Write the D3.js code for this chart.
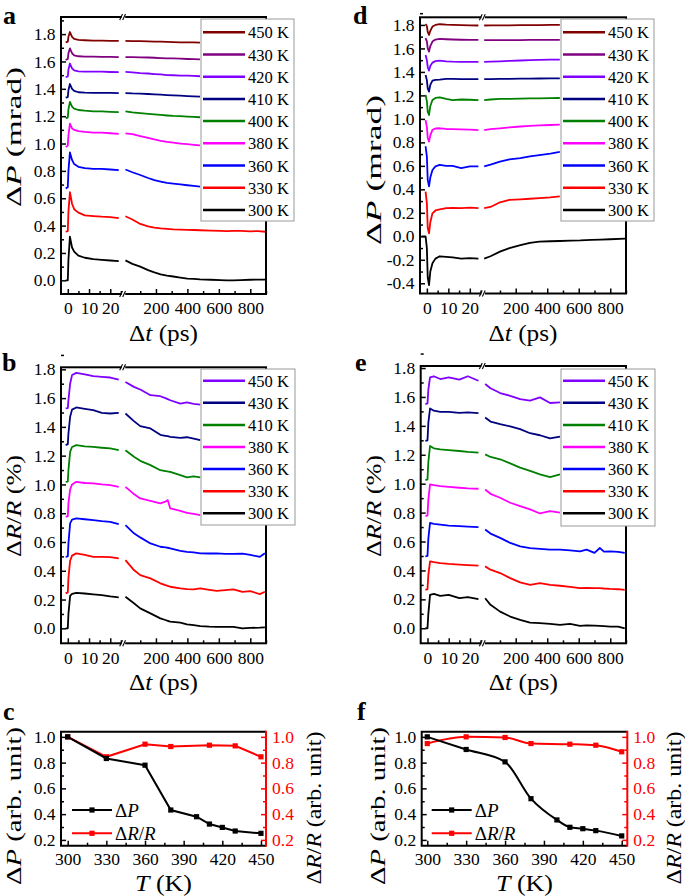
<!DOCTYPE html>
<html><head><meta charset="utf-8">
<script src="https://cdn.jsdelivr.net/npm/d3@7"></script>
<style>
body{margin:0;background:#fff}
</style>
</head><body><svg id="c" width="685" height="896"></svg>
<script>
// ---------------- DATA ----------------
const labelsA = ["450 K","430 K","420 K","410 K","400 K","380 K","360 K","330 K","300 K"];
const colorsA = ["#800000","#800080","#8000ff","#000080","#008000","#ff00ff","#0000ff","#ff0000","#000000"];
const labelsB = ["450 K","430 K","410 K","380 K","360 K","330 K","300 K"];
const colorsB = ["#8000ff","#000080","#008000","#ff00ff","#0000ff","#ff0000","#000000"];

// Panel a (ΔP, mrad)
const tS_A = [-1, 0, 0.3, 1, 2, 3, 5, 8, 12, 16, 20, 24];
const tL_A = [6, 50, 100, 150, 190, 230, 270, 310, 355, 400, 440, 480, 550, 610, 650, 690, 740, 800, 850, 895];
const a450S = [1.74, 1.745, 1.78, 1.815, 1.78, 1.765, 1.758, 1.755, 1.752, 1.752, 1.75, 1.75];
const a450L = [1.75, 1.749, 1.748, 1.747, 1.745, 1.745, 1.743, 1.742, 1.74, 1.74, 1.74, 1.738];
const a430S = [1.612, 1.618, 1.66, 1.695, 1.66, 1.645, 1.638, 1.635, 1.635, 1.633, 1.633, 1.632];
const a430L = [1.632, 1.631, 1.63, 1.629, 1.627, 1.625, 1.623, 1.622, 1.62, 1.618, 1.617, 1.615];
const a420S = [1.485, 1.49, 1.54, 1.585, 1.55, 1.535, 1.528, 1.525, 1.525, 1.525, 1.523, 1.522];
const a420L = [1.524, 1.52, 1.515, 1.512, 1.508, 1.505, 1.5, 1.499, 1.497, 1.496, 1.495, 1.492];
const a410S = [1.335, 1.34, 1.39, 1.435, 1.4, 1.385, 1.375, 1.372, 1.37, 1.37, 1.37, 1.368];
const a410L = [1.368, 1.366, 1.365, 1.362, 1.36, 1.357, 1.354, 1.352, 1.35, 1.347, 1.345, 1.343];
const a400S = [1.185, 1.19, 1.25, 1.305, 1.27, 1.255, 1.245, 1.24, 1.235, 1.235, 1.232, 1.23];
const a400L = [1.235, 1.228, 1.222, 1.217, 1.213, 1.209, 1.205, 1.202, 1.2, 1.197, 1.195, 1.192];
const a380S = [0.975, 0.985, 1.06, 1.145, 1.11, 1.1, 1.09, 1.085, 1.08, 1.08, 1.075, 1.07];
const a380L = [1.075, 1.068, 1.055, 1.042, 1.03, 1.02, 1.012, 1.006, 1.0, 0.995, 0.99, 0.986];
const a360S = [0.672, 0.68, 0.8, 0.935, 0.88, 0.85, 0.83, 0.82, 0.815, 0.815, 0.81, 0.805];
const a360L = [0.81, 0.79, 0.77, 0.748, 0.732, 0.722, 0.713, 0.707, 0.701, 0.695, 0.69, 0.685];
const a330S = [0.355, 0.36, 0.5, 0.645, 0.56, 0.52, 0.495, 0.475, 0.47, 0.465, 0.462, 0.455];
const a330L = [0.468, 0.445, 0.412, 0.395, 0.386, 0.38, 0.376, 0.372, 0.371, 0.369, 0.368, 0.366, 0.364, 0.362, 0.36, 0.361, 0.362, 0.358, 0.36, 0.355];
const a300S = [0.0, 0.0, 0.15, 0.32, 0.24, 0.21, 0.18, 0.165, 0.155, 0.15, 0.145, 0.14];
const a300L = [0.146, 0.12, 0.1, 0.075, 0.058, 0.044, 0.035, 0.028, 0.02, 0.013, 0.01, 0.007, 0.004, 0.002, 0.0, 0.0, 0.002, 0.004, 0.005, 0.005];

// Panel d (ΔP, mrad)
const tS_D = [-2.5, -0.6, 0, 0.4, 1, 1.6, 2.6, 4, 6, 9, 12, 16, 20, 24];
const tL_D = [0, 40, 100, 160, 230, 290, 350, 420, 480, 550, 610, 680, 740, 800, 895];
const d450S = [null, 1.808, 1.79, 1.74, 1.715, 1.75, 1.786, 1.8, 1.806, 1.802, 1.8, 1.798, 1.797, 1.795];
const d450L = [1.795, 1.796, 1.797, 1.797, 1.798, 1.798, 1.799, 1.8, 1.8];
const d430S = [null, 1.687, 1.66, 1.6, 1.573, 1.62, 1.658, 1.675, 1.681, 1.678, 1.676, 1.674, 1.673, 1.672];
const d430L = [1.67, 1.67, 1.671, 1.671, 1.671, 1.672, 1.672, 1.672, 1.672];
const d420S = [null, 1.544, 1.5, 1.44, 1.411, 1.45, 1.479, 1.492, 1.496, 1.49, 1.487, 1.486, 1.486, 1.485];
const d420L = [1.485, 1.487, 1.49, 1.494, 1.497, 1.5, 1.502, 1.504, 1.505];
const d410S = [null, 1.374, 1.33, 1.26, 1.232, 1.29, 1.326, 1.333, 1.335, 1.34, 1.34, 1.339, 1.338, 1.338];
const d410L = [1.338, 1.339, 1.34, 1.341, 1.342, 1.343, 1.344, 1.345, 1.345];
const d400S = [null, 1.204, 1.15, 1.06, 1.033, 1.11, 1.161, 1.178, 1.184, 1.17, 1.16, 1.165, 1.163, 1.16];
const d400L = [1.16, 1.165, 1.17, 1.171, 1.173, 1.174, 1.175, 1.177, 1.178];
const d380S = [null, 0.99, 0.93, 0.84, 0.806, 0.86, 0.906, 0.918, 0.92, 0.914, 0.912, 0.91, 0.908, 0.905];
const d380L = [0.905, 0.912, 0.92, 0.928, 0.935, 0.94, 0.945, 0.948, 0.951];
const d360S = [null, 0.767, 0.68, 0.48, 0.425, 0.5, 0.565, 0.595, 0.608, 0.6, 0.6, 0.58, 0.595, 0.595];
const d360L = [0.595, 0.61, 0.636, 0.655, 0.665, 0.68, 0.692, 0.705, 0.72];
const d330S = [null, 0.38, 0.28, 0.07, 0.025, 0.12, 0.196, 0.22, 0.23, 0.24, 0.243, 0.24, 0.245, 0.24];
const d330L = [0.24, 0.25, 0.29, 0.31, 0.315, 0.32, 0.325, 0.332, 0.34];
const d300S = [0.0, 0.0, -0.1, -0.35, -0.415, -0.3, -0.23, -0.19, -0.17, -0.175, -0.18, -0.19, -0.185, -0.19];
const d300L = [-0.19, -0.17, -0.13, -0.1, -0.075, -0.055, -0.045, -0.042, -0.04, -0.037, -0.035, -0.03, -0.028, -0.025, -0.02];

// Panel b (ΔR/R, %)
const tS_B = [-1, 0, 0.3, 1.1, 2, 4, 8, 12, 16, 20, 24];
const tL_B = [6, 60, 100, 165, 228, 260, 275, 291, 355, 397, 440, 482, 540, 587, 640, 693, 750, 800, 861, 893];
const b450S = [1.528, 1.53, 1.585, 1.7, 1.76, 1.775, 1.765, 1.752, 1.748, 1.743, 1.729];
const b450L = [1.712, 1.678, 1.66, 1.62, 1.613, 1.6, 1.593, 1.585, 1.562, 1.57, 1.56, 1.555];
const b430S = [1.273, 1.28, 1.354, 1.47, 1.52, 1.535, 1.525, 1.516, 1.497, 1.493, 1.497];
const b430L = [1.493, 1.44, 1.405, 1.389, 1.345, 1.338, 1.335, 1.331, 1.324, 1.328, 1.318, 1.308];
const b410S = [1.018, 1.02, 1.099, 1.226, 1.26, 1.273, 1.265, 1.261, 1.255, 1.25, 1.238];
const b410L = [1.238, 1.192, 1.164, 1.134, 1.099, 1.093, 1.09, 1.088, 1.065, 1.049, 1.056, 1.049];
const b380S = [0.775, 0.78, 0.868, 0.965, 1.0, 1.018, 1.01, 1.007, 1.0, 0.995, 0.983];
const b380L = [0.983, 0.933, 0.903, 0.886, 0.868, 0.88, 0.891, 0.833, 0.817, 0.803, 0.795, 0.787];
const b360S = [0.497, 0.5, 0.59, 0.729, 0.755, 0.764, 0.758, 0.752, 0.745, 0.74, 0.724];
const b360L = [0.717, 0.66, 0.632, 0.59, 0.567, 0.562, 0.56, 0.556, 0.539, 0.532, 0.528, 0.521, 0.52, 0.521, 0.518, 0.517, 0.519, 0.51, 0.497, 0.521];
const b330S = [0.243, 0.25, 0.35, 0.47, 0.505, 0.521, 0.51, 0.497, 0.497, 0.495, 0.486];
const b330L = [0.474, 0.405, 0.37, 0.347, 0.313, 0.3, 0.295, 0.289, 0.278, 0.272, 0.271, 0.278, 0.268, 0.261, 0.266, 0.271, 0.254, 0.258, 0.238, 0.254];
const b300S = [0.0, 0.0, 0.1, 0.225, 0.24, 0.247, 0.242, 0.236, 0.231, 0.222, 0.215];
const b300L = [0.22, 0.174, 0.139, 0.104, 0.069, 0.058, 0.052, 0.046, 0.04, 0.028, 0.022, 0.016, 0.012, 0.01, 0.01, 0.01, 0.0, 0.003, 0.005, 0.007];

// Panel e (ΔR/R, %)
const tS_E = [-1, 0, 0.4, 1.2, 3, 6, 10, 15, 19, 24];
const tL_E = [6, 40, 101, 165, 228, 291, 354, 418, 481, 545, 608, 650, 700, 734, 760, 800, 850, 892];
const e450S = [1.551, 1.555, 1.65, 1.736, 1.743, 1.724, 1.736, 1.72, 1.743, 1.712];
const e450L = [1.69, 1.66, 1.627, 1.608, 1.585, 1.574, 1.597, 1.558, 1.562];
const e430S = [1.296, 1.3, 1.42, 1.52, 1.505, 1.497, 1.497, 1.49, 1.493, 1.488];
const e430L = [1.458, 1.43, 1.412, 1.396, 1.377, 1.349, 1.335, 1.313, 1.326];
const e410S = [1.025, 1.03, 1.15, 1.261, 1.245, 1.238, 1.232, 1.226, 1.22, 1.215];
const e410L = [1.203, 1.185, 1.169, 1.141, 1.111, 1.088, 1.065, 1.045, 1.065];
const e380S = [0.775, 0.78, 0.89, 0.995, 0.99, 0.983, 0.978, 0.972, 0.968, 0.965];
const e380L = [0.96, 0.93, 0.903, 0.868, 0.845, 0.822, 0.794, 0.81, 0.8];
const e360S = [0.497, 0.5, 0.62, 0.729, 0.722, 0.717, 0.71, 0.706, 0.703, 0.7];
const e360L = [0.683, 0.655, 0.625, 0.59, 0.567, 0.555, 0.549, 0.544, 0.544, 0.539, 0.532, 0.544, 0.521, 0.555, 0.53, 0.532, 0.528, 0.521];
const e330S = [0.266, 0.27, 0.37, 0.463, 0.458, 0.451, 0.445, 0.44, 0.437, 0.433];
const e330L = [0.428, 0.405, 0.382, 0.347, 0.317, 0.3, 0.313, 0.3, 0.294, 0.286, 0.278, 0.28, 0.278, 0.278, 0.275, 0.272, 0.27, 0.266];
const e300S = [0.0, 0.0, 0.1, 0.231, 0.238, 0.224, 0.231, 0.208, 0.215, 0.201];
const e300L = [0.208, 0.162, 0.115, 0.081, 0.058, 0.039, 0.035, 0.03, 0.023, 0.03, 0.016, 0.02, 0.018, 0.016, 0.015, 0.012, 0.012, 0.0];

// Panels c, f (normalized amplitudes vs T)
const tempP = [300, 330, 360, 380, 400, 410, 420, 430, 450];
const tempR = [300, 330, 360, 380, 410, 430, 450];
const cP = [1.0, 0.832, 0.78, 0.432, 0.38, 0.323, 0.297, 0.269, 0.251];
const cR = [1.0, 0.845, 0.943, 0.925, 0.935, 0.93, 0.845];
const fP = [1.0, 0.902, 0.806, 0.52, 0.355, 0.298, 0.287, 0.272, 0.231];
const fR = [0.948, 1.0, 0.995, 0.948, 0.943, 0.935, 0.884];

// Tick labels
const ticksPA = [0.0, 0.2, 0.4, 0.6, 0.8, 1.0, 1.2, 1.4, 1.6, 1.8];
const ticksPD = [-0.4, -0.2, 0.0, 0.2, 0.4, 0.6, 0.8, 1.0, 1.2, 1.4, 1.6, 1.8];
const ticksR = [0.0, 0.2, 0.4, 0.6, 0.8, 1.0, 1.2, 1.4, 1.6, 1.8];
const ticksTshort = [0, 10, 20];
const ticksTlong = [200, 400, 600, 800];
const ticksTemp = [300, 330, 360, 390, 420, 450];
const ticksNorm = [0.2, 0.4, 0.6, 0.8, 1.0];

// ---------------- FONT PICK ----------------
function pickFont(list) {
  const cv = document.createElement("canvas").getContext("2d");
  const s = "abcdefghijklmnopqrstuvwxyzABCDEFGHIJ0123456789()";
  for (const f of list) {
    let differs = false;
    for (const base of ["monospace", "sans-serif"]) {
      cv.font = `40px ${base}`; const w0 = cv.measureText(s).width;
      cv.font = `40px "${f}", ${base}`; const w1 = cv.measureText(s).width;
      if (Math.abs(w0 - w1) > 0.5) differs = true; else { differs = false; break; }
    }
    if (differs) return `"${f}"`;
  }
  return "serif";
}
const FONT = pickFont(["Liberation Serif", "Times New Roman", "Tinos", "DejaVu Serif", "Noto Serif", "FreeSerif", "Nimbus Roman", "Nimbus Roman No9 L", "Liberation Sans"]);
d3.select("head").append("style").text(`svg text{font-family:${FONT}, serif;}`);

// ---------------- DRAWING ----------------
const svg = d3.select("#c");
const fmt = v => (Math.round(v * 10) / 10 + 0).toFixed(1);
const mids = arr => d3.pairs(arr).map(([a, b]) => (a + b) / 2);
const TICKF = 17.5;

function addText(g, x, y, parts, o = {}) {
  const t = g.append("text").attr("x", x).attr("y", y)
    .attr("font-size", o.size || 20).attr("text-anchor", o.anchor || "start")
    .attr("fill", o.fill || "#000");
  if (o.rotate) t.attr("transform", `rotate(-90,${x},${y})`);
  if (o.len) t.attr("textLength", o.len).attr("lengthAdjust", "spacingAndGlyphs");
  if (o.bold) t.attr("font-weight", "bold");
  parts.forEach(p => {
    const s = t.append("tspan").text(Array.isArray(p) ? p[0] : p);
    if (Array.isArray(p) && p[1]) s.attr("font-style", "italic");
  });
  return t;
}

function styleAxis(sel, color, size) {
  sel.select(".domain").remove();
  sel.attr("font-family", null).attr("font-size", size || TICKF);
  sel.selectAll("line").attr("stroke", color || "#000").attr("stroke-width", 1.5);
  sel.selectAll("text").attr("fill", color || "#000");
}

function breakMark(g, x, y) {
  g.append("rect").attr("x", x - 2).attr("y", y - 1.6).attr("width", 3.5).attr("height", 3.2).attr("fill", "#fff");
  [-2.8, 0.2].forEach(dx => {
    g.append("line").attr("x1", x + dx - 1.2).attr("y1", y + 3).attr("x2", x + dx + 1.6).attr("y2", y - 3)
      .attr("stroke", "#000").attr("stroke-width", 1.1);
  });
}

function timePanel(c) {
  const g = svg.append("g");
  const xL = d3.scaleLinear().domain([-3.2, 26]).range([c.L, c.brk]);
  const xR = d3.scaleLinear().domain([0, 900]).range([c.brk + 1.5, c.R]);
  const y = d3.scaleLinear().domain(c.yDom).range([c.B, c.T]);
  c.series.forEach(s => {
    [[xL, c.tS, s.vS], [xR, c.tL, s.vL]].forEach(([xs, ts, vs]) => {
      const line = d3.line().defined(d => d[1] != null).x(d => xs(d[0])).y(d => y(d[1]));
      g.append("path").datum(d3.zip(ts, vs)).attr("d", line)
        .attr("fill", "none").attr("stroke", s.color).attr("stroke-width", 1.8)
        .attr("stroke-linejoin", "round");
    });
  });
  const ya = g.append("g").attr("transform", `translate(${c.L},0)`)
    .call(d3.axisLeft(y).tickValues(c.yTicks).tickFormat(fmt).tickSize(-5).tickPadding(5.5));
  styleAxis(ya);
  const ym = g.append("g").attr("transform", `translate(${c.L},0)`)
    .call(d3.axisLeft(y).tickValues(mids(c.yTicks).concat([c.yTicks[c.yTicks.length - 1] + 0.1])).tickFormat("").tickSize(-3));
  styleAxis(ym);
  const xa1 = g.append("g").attr("transform", `translate(0,${c.B})`)
    .call(d3.axisBottom(xL).tickValues(ticksTshort).tickSize(-5).tickPadding(8));
  styleAxis(xa1);
  const xm1 = g.append("g").attr("transform", `translate(0,${c.B})`)
    .call(d3.axisBottom(xL).tickValues(mids(ticksTshort).concat([25])).tickFormat("").tickSize(-3));
  styleAxis(xm1);
  const xa2 = g.append("g").attr("transform", `translate(0,${c.B})`)
    .call(d3.axisBottom(xR).tickValues(ticksTlong).tickSize(-5).tickPadding(8));
  styleAxis(xa2);
  const xm2 = g.append("g").attr("transform", `translate(0,${c.B})`)
    .call(d3.axisBottom(xR).tickValues([100].concat(mids(ticksTlong), [900])).tickFormat("").tickSize(-3));
  styleAxis(xm2);
  g.append("rect").attr("x", c.L).attr("y", c.T).attr("width", c.R - c.L).attr("height", c.B - c.T)
    .attr("fill", "none").attr("stroke", "#000").attr("stroke-width", 2);
  breakMark(g, c.brk + 0.7, c.T);
  breakMark(g, c.brk + 0.7, c.B);
  const lg = c.legend;
  g.append("rect").attr("x", lg.x).attr("y", lg.y).attr("width", lg.w).attr("height", lg.h)
    .attr("fill", "#fff").attr("stroke", "#999").attr("stroke-width", 1);
  c.series.forEach((s, i) => {
    const yy = lg.row0 + i * lg.step;
    g.append("line").attr("x1", lg.x + 2).attr("x2", lg.x + 44).attr("y1", yy).attr("y2", yy)
      .attr("stroke", s.color).attr("stroke-width", 2.5);
    addText(g, lg.x + 47, yy + 6, [s.label], { size: 16.5 });
  });
  addText(g, (c.L + c.R) / 2, c.xTitleY, ["Δ", ["t", true], " (ps)"], { size: 24, anchor: "middle", len: 69 });
  addText(g, c.yTitleX, c.yTitleC, c.yTitle, { size: 21, anchor: "middle", rotate: true, len: c.yTitleLen });
  addText(g, c.letterX, c.letterY, [c.letter], { size: 26, bold: true });
}

function mk(labels, colors, arrs) {
  return labels.map((l, i) => ({ label: l, color: colors[i], vS: arrs[i][0], vL: arrs[i][1] }));
}

timePanel({
  L: 61, R: 266, T: 17, B: 294, brk: 123, yDom: [-0.1, 1.925], yTicks: ticksPA,
  tS: tS_A, tL: tL_A,
  series: mk(labelsA, colorsA, [[a450S, a450L], [a430S, a430L], [a420S, a420L], [a410S, a410L], [a400S, a400L], [a380S, a380L], [a360S, a360L], [a330S, a330L], [a300S, a300L]]),
  legend: { x: 201, y: 19, w: 93, h: 202, row0: 32.3, step: 22.2 },
  xTitleY: 341, yTitleX: 21, yTitleC: 137, yTitleLen: 140, yTitle: ["Δ", ["P", true], " (mrad)"],
  letter: "a", letterX: 3, letterY: 24
});
timePanel({
  L: 420, R: 626, T: 17.3, B: 293.5, brk: 482.7, yDom: [-0.487, 1.865], yTicks: ticksPD,
  tS: tS_D, tL: tL_D,
  series: mk(labelsA, colorsA, [[d450S, d450L], [d430S, d430L], [d420S, d420L], [d410S, d410L], [d400S, d400L], [d380S, d380L], [d360S, d360L], [d330S, d330L], [d300S, d300L]]),
  legend: { x: 561, y: 19, w: 93, h: 202, row0: 32.3, step: 22.2 },
  xTitleY: 341, yTitleX: 381, yTitleC: 170, yTitleLen: 150, yTitle: ["Δ", ["P", true], " (mrad)"],
  letter: "d", letterX: 353, letterY: 24
});
timePanel({
  L: 61, R: 266, T: 367.3, B: 643.3, brk: 123, yDom: [-0.104, 1.814], yTicks: ticksR,
  tS: tS_B, tL: tL_B,
  series: mk(labelsB, colorsB, [[b450S, b450L], [b430S, b430L], [b410S, b410L], [b380S, b380L], [b360S, b360L], [b330S, b330L], [b300S, b300L]]),
  legend: { x: 201, y: 369, w: 94, h: 156, row0: 380.7, step: 22.1 },
  xTitleY: 690, yTitleX: 21, yTitleC: 506, yTitleLen: 102, yTitle: ["Δ", ["R", true], "/", ["R", true], " (%)"],
  letter: "b", letterX: 2, letterY: 371
});
timePanel({
  L: 420.7, R: 626, T: 366, B: 643.3, brk: 482.7, yDom: [-0.104, 1.814], yTicks: ticksR,
  tS: tS_E, tL: tL_E,
  series: mk(labelsB, colorsB, [[e450S, e450L], [e430S, e430L], [e410S, e410L], [e380S, e380L], [e360S, e360L], [e330S, e330L], [e300S, e300L]]),
  legend: { x: 561, y: 369, w: 94, h: 157, row0: 380.7, step: 22.1 },
  xTitleY: 690, yTitleX: 381, yTitleC: 506, yTitleLen: 102, yTitle: ["Δ", ["R", true], "/", ["R", true], " (%)"],
  letter: "e", letterX: 355, letterY: 371
});

function tempPanel(c) {
  const g = svg.append("g");
  const x = d3.scaleLinear().domain(c.xDom).range([c.L, c.R]);
  const y = d3.scaleLinear().domain([0.155, 1.04]).range([c.B, c.T]);
  const RED = "#ff0000";
  const xa = g.append("g").attr("transform", `translate(0,${c.B})`)
    .call(d3.axisBottom(x).tickValues(ticksTemp).tickSize(-5).tickPadding(7));
  styleAxis(xa);
  const xm = g.append("g").attr("transform", `translate(0,${c.B})`)
    .call(d3.axisBottom(x).tickValues(mids(ticksTemp)).tickFormat("").tickSize(-3));
  styleAxis(xm);
  const ya = g.append("g").attr("transform", `translate(${c.L},0)`)
    .call(d3.axisLeft(y).tickValues(ticksNorm).tickFormat(fmt).tickSize(-5).tickPadding(5.5));
  styleAxis(ya);
  const ym = g.append("g").attr("transform", `translate(${c.L},0)`)
    .call(d3.axisLeft(y).tickValues(mids(ticksNorm)).tickFormat("").tickSize(-3));
  styleAxis(ym);
  const yr = g.append("g").attr("transform", `translate(${c.R},0)`)
    .call(d3.axisRight(y).tickValues(ticksNorm).tickFormat(fmt).tickSize(-5).tickPadding(6));
  styleAxis(yr, RED);
  const yrm = g.append("g").attr("transform", `translate(${c.R},0)`)
    .call(d3.axisRight(y).tickValues(mids(ticksNorm)).tickFormat("").tickSize(-3));
  styleAxis(yrm, RED);
  const lineP = d3.line().x(d => x(d[0])).y(d => y(d[1])).curve(c.curve);
  [[tempR, c.R_, RED], [tempP, c.P_, "#000"]].forEach(([ts, vs, col]) => {
    const pts = d3.zip(ts, vs);
    g.append("path").datum(pts).attr("d", lineP).attr("fill", "none").attr("stroke", col).attr("stroke-width", 2);
    g.selectAll(null).data(pts).enter().append("rect")
      .attr("x", d => x(d[0]) - 2.6).attr("y", d => y(d[1]) - 2.6).attr("width", 5.2).attr("height", 5.2).attr("fill", col);
  });
  g.append("path").attr("d", `M${c.R},${c.T}H${c.L}V${c.B}H${c.R}`).attr("fill", "none").attr("stroke", "#000").attr("stroke-width", 2);
  g.append("line").attr("x1", c.R).attr("x2", c.R).attr("y1", c.T - 1).attr("y2", c.B + 1).attr("stroke", RED).attr("stroke-width", 2);
  [["#000", 810, ["Δ", ["P", true]]], [RED, 833.3, ["Δ", ["R", true], "/", ["R", true]]]].forEach(([col, yy, parts]) => {
    g.append("line").attr("x1", c.lgX).attr("x2", c.lgX + 40).attr("y1", yy).attr("y2", yy).attr("stroke", col).attr("stroke-width", 2);
    g.append("rect").attr("x", c.lgX + 20 - 2.6).attr("y", yy - 2.6).attr("width", 5.2).attr("height", 5.2).attr("fill", col);
    addText(g, c.lgX + 43, yy + 7, parts, { size: 19 });
  });
  addText(g, (c.L + c.R) / 2, 891, [["T", true], " (K)"], { size: 23, anchor: "middle", len: 57 });
  addText(g, c.yTitleX, 806, ["Δ", ["P", true], " (arb. unit)"], { size: 21, anchor: "middle", rotate: true, len: 158 });
  addText(g, c.yTitleX2, 808, ["Δ", ["R", true], "/", ["R", true], " (arb. unit)"], { size: 21, anchor: "middle", rotate: true, len: 153 });
  addText(g, c.letterX, 720, [c.letter], { size: 26, bold: true });
}

tempPanel({ L: 61, R: 266, T: 731.7, B: 845.7, xDom: [294.8, 453.9], P_: cP, R_: cR, curve: d3.curveLinear,
  lgX: 72, yTitleX: 21, yTitleX2: 321, letter: "c", letterX: 3 });
tempPanel({ L: 421.7, R: 627.3, T: 731.7, B: 845.7, xDom: [295.7, 454.3], P_: fP, R_: fR, curve: d3.curveMonotoneX,
  lgX: 431.7, yTitleX: 385, yTitleX2: 681, letter: "f", letterX: 357 });
</script></body></html>
